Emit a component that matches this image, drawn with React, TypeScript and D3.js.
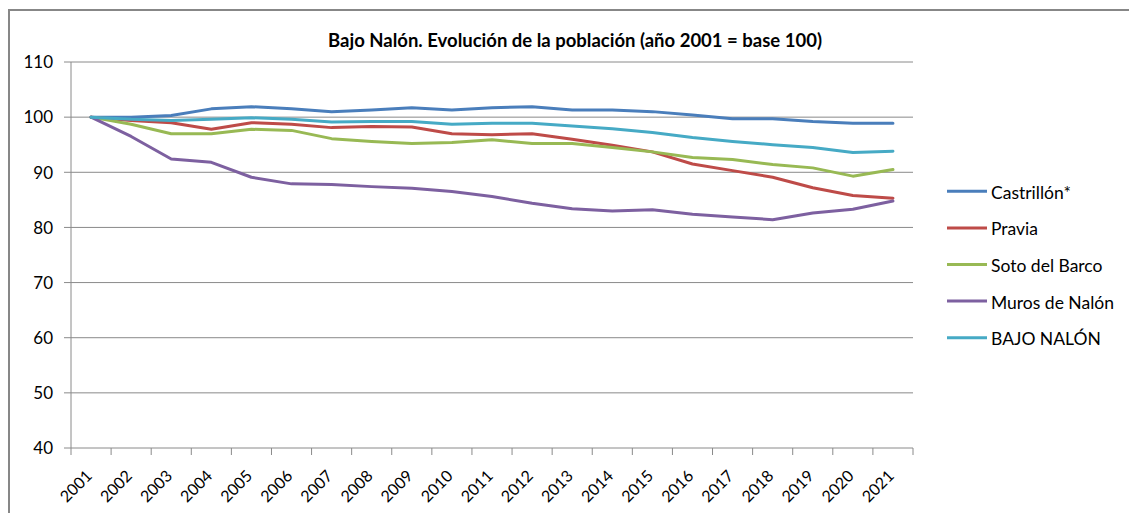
import React from "react";
import * as d3 from "d3";

const years = ["2001","2002","2003","2004","2005","2006","2007","2008","2009","2010","2011","2012","2013","2014","2015","2016","2017","2018","2019","2020","2021"];
const castrillon = [100,100,100.3,101.5,101.9,101.5,101.0,101.3,101.7,101.3,101.7,101.9,101.3,101.3,101.0,100.4,99.7,99.7,99.2,98.9,98.9];
const pravia = [100,99.4,99.0,97.8,99.0,98.7,98.1,98.3,98.2,97.0,96.8,97.0,96.0,94.9,93.7,91.5,90.3,89.1,87.2,85.8,85.3];
const soto = [100,98.7,97.0,97.0,97.8,97.6,96.1,95.6,95.2,95.4,95.9,95.2,95.2,94.5,93.7,92.7,92.3,91.4,90.8,89.3,90.5];
const muros = [100,96.5,92.4,91.8,89.1,87.9,87.8,87.4,87.1,86.5,85.6,84.4,83.4,83.0,83.2,82.4,81.9,81.4,82.6,83.3,84.8];
const bajoNalon = [100,99.6,99.4,99.6,99.9,99.6,99.1,99.2,99.2,98.7,98.9,98.9,98.4,97.9,97.2,96.3,95.6,95.0,94.5,93.6,93.8];
const seriesNames = ["Castrillón*","Pravia","Soto del Barco","Muros de Nalón","BAJO NALÓN"];
const seriesColors = ["#4A7EBB","#BE4B48","#98B954","#7D60A0","#46AAC5"];
const yTicks = [40,50,60,70,80,90,100,110];
const title = "Bajo Nalón. Evolución de la población (año 2001 = base 100)";

const FONT = "Lato, 'Open Sans', sans-serif";

export default function App() {
  const allSeries = [castrillon, pravia, soto, muros, bajoNalon];
  const left = 71, right = 913, top = 62, bottom = 448;
  const x = d3.scaleBand<string>().domain(years).range([left, right]);
  const y = d3.scaleLinear().domain([40, 110]).range([bottom, top]);
  const cx = (i: number) => (x(years[i]) as number) + x.bandwidth() / 2;
  const line = d3.line<number>().x((_, i) => cx(i)).y((d) => y(d));
  const grid = "#8a8a8a";

  return (
    <svg width={1129} height={513} style={{ position: "absolute", left: 0, top: 0, background: "#fff" }}>
      <rect x={9} y={10} width={1140} height={520} fill="#fff" stroke="#878787" strokeWidth={2} />
      <text x={575} y={47} textAnchor="middle" fontFamily={FONT} fontWeight="bold" fontSize={18.5} fill="#000">{title}</text>
      {yTicks.map((t) => (
        <g key={t}>
          <line x1={left - 7} x2={right} y1={y(t)} y2={y(t)} stroke={grid} strokeWidth={1} />
          <text x={53} y={y(t) + 6.3} textAnchor="end" fontFamily={FONT} fontSize={17} fill="#000">{t}</text>
        </g>
      ))}
      <line x1={left} x2={left} y1={top} y2={bottom} stroke={grid} strokeWidth={1} />
      {years.map((yr) => (
        <line key={"t" + yr} x1={x(yr) as number} x2={x(yr) as number} y1={bottom} y2={bottom + 7} stroke={grid} />
      ))}
      <line x1={right} x2={right} y1={bottom} y2={bottom + 7} stroke={grid} />
      {years.map((yr, i) => (
        <text key={yr} transform={`translate(${cx(i) + 2},${bottom + 29}) rotate(-45)`} textAnchor="end" fontFamily={FONT} fontSize={16} fill="#000">{yr}</text>
      ))}
      {allSeries.map((s, k) => (
        <path key={k} d={line(s) as string} fill="none" stroke={seriesColors[k]} strokeWidth={3} strokeLinejoin="round" strokeLinecap="round" />
      ))}
      {seriesNames.map((n, k) => (
        <g key={n}>
          <line x1={947} x2={987} y1={191.3 + k * 36.6} y2={191.3 + k * 36.6} stroke={seriesColors[k]} strokeWidth={3} />
          <text x={991} y={191.3 + k * 36.6 + 7.5} fontFamily={FONT} fontSize={17.5} fill="#000">{n}</text>
        </g>
      ))}
    </svg>
  );
}
